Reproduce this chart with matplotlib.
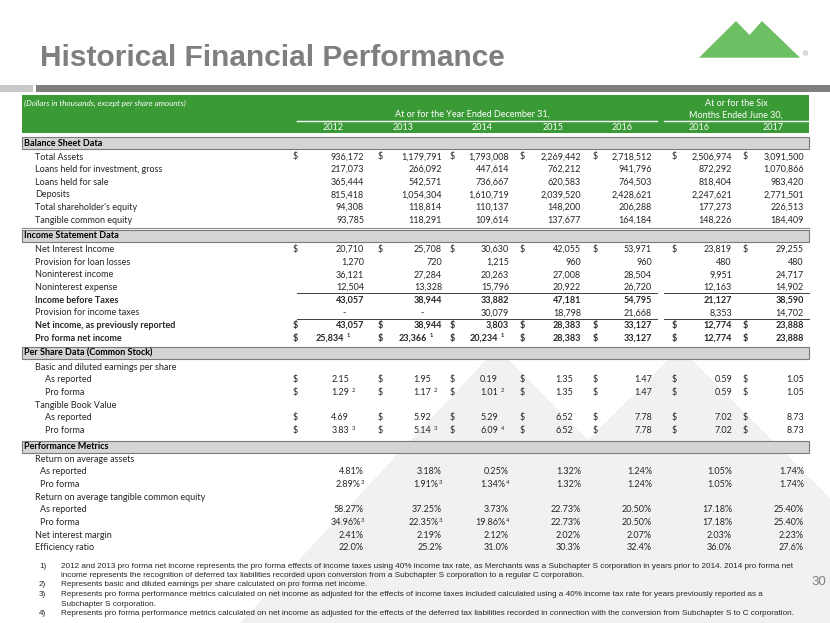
import matplotlib.pyplot as plt
from matplotlib.patches import Polygon, Rectangle

# ---- data ----
annual_years = ['2012', '2013', '2014', '2015', '2016']
half_years = ['2016', '2017']

bs_labels = ['Total Assets', 'Loans held for investment, gross', 'Loans held for sale',
             'Deposits', "Total shareholder's equity", 'Tangible common equity']
total_assets = [936172, 1179791, 1793008, 2269442, 2718512, 2506974, 3091500]
loans_investment = [217073, 266092, 447614, 762212, 941796, 872292, 1070866]
loans_sale = [365444, 542571, 736667, 620583, 764503, 818404, 983420]
deposits = [815418, 1054304, 1610719, 2039520, 2428621, 2247621, 2771501]
shareholder_equity = [94308, 118814, 110137, 148200, 206288, 177273, 226513]
tangible_equity = [93785, 118291, 109614, 137677, 164184, 148226, 184409]

net_interest_income = [20710, 25708, 30630, 42055, 53971, 23819, 29255]
loan_loss_provision = [1270, 720, 1215, 960, 960, 480, 480]
noninterest_income = [36121, 27284, 20263, 27008, 28504, 9951, 24717]
noninterest_expense = [12504, 13328, 15796, 20922, 26720, 12163, 14902]
income_before_taxes = [43057, 38944, 33882, 47181, 54795, 21127, 38590]
income_tax_provision = [None, None, 30079, 18798, 21668, 8353, 14702]
net_income_reported = [43057, 38944, 3803, 28383, 33127, 12774, 23888]
net_income_pro_forma = [25834, 23366, 20234, 28383, 33127, 12774, 23888]
net_income_pro_forma_notes = ['1', '1', '1', None, None, None, None]

eps_reported = [2.15, 1.95, 0.19, 1.35, 1.47, 0.59, 1.05]
eps_pro_forma = [1.29, 1.17, 1.01, 1.35, 1.47, 0.59, 1.05]
eps_pro_forma_notes = ['2', '2', '2', None, None, None, None]
tbv_reported = [4.69, 5.92, 5.29, 6.52, 7.78, 7.02, 8.73]
tbv_pro_forma = [3.83, 5.14, 6.09, 6.52, 7.78, 7.02, 8.73]
tbv_pro_forma_notes = ['3', '3', '4', None, None, None, None]

roaa_reported = [4.81, 3.18, 0.25, 1.32, 1.24, 1.05, 1.74]
roaa_pro_forma = [2.89, 1.91, 1.34, 1.32, 1.24, 1.05, 1.74]
roaa_pro_forma_notes = ['3', '3', '4', None, None, None, None]
roatce_reported = [58.27, 37.25, 3.73, 22.73, 20.50, 17.18, 25.40]
roatce_pro_forma = [34.96, 22.35, 19.86, 22.73, 20.50, 17.18, 25.40]
roatce_pro_forma_notes = ['3', '3', '4', None, None, None, None]
net_interest_margin = [2.41, 2.19, 2.12, 2.02, 2.07, 2.03, 2.23]
efficiency_ratio = [22.0, 25.2, 31.0, 30.3, 32.4, 36.0, 27.6]

footnotes = [
    ('1)', ['2012 and 2013 pro forma net income represents the pro forma effects of income taxes using 40% income tax rate, as Merchants was a Subchapter S corporation in years prior to 2014. 2014 pro forma net',
            'income represents the recognition of deferred tax liabilities recorded upon conversion from a Subchapter S corporation to a regular C corporation.']),
    ('2)', ['Represents basic and diluted earnings per share calculated on pro forma net income.']),
    ('3)', ['Represents pro forma performance metrics calculated on net income as adjusted for the effects of income taxes included calculated using a 40% income tax rate for years previously reported as a',
            'Subchapter S corporation.']),
    ('4)', ['Represents pro forma performance metrics calculated on net income as adjusted for the effects of the deferred tax liabilities recorded in connection with the conversion from Subchapter S to C corporation.']),
]

# ---- layout (pixel coords, y down) ----
W, H = 830, 623
GREEN = '#3a9a36'
LOGO_GREEN = '#6cbf62'
GRAY = '#7f7f7f'
INK = '#262626'
FONT = ['Lato', 'DejaVu Sans']
FS = 6.5
FN_FS = 5.85

col_right = [364, 442, 509, 581, 652, 732, 804]
col_dollar = [293, 378, 450, 520, 593, 672, 743]
ps_pad = [15, 11, 11, 8, 0, 0, 0]
ni_pad = [20, 15, 11, 0, 0, 0, 0]
year_x = [333, 403, 482, 553, 622, 699, 773]
step = 12.65

fig = plt.figure(figsize=(8.3, 6.23), dpi=100)
ax = fig.add_axes([0, 0, 1, 1])
ax.set_xlim(0, W)
ax.set_ylim(H, 0)
ax.axis('off')

# faint logo watermark
ax.add_patch(Polygon([(224, 640), (497, 348), (588, 440), (680, 348), (972, 640)],
                     closed=True, fc='#f1f1f1', ec='none', zorder=0))

# title + logo
ax.text(40, 66, 'Historical Financial Performance', fontsize=21.5, weight='bold',
        color=GRAY, family='Liberation Sans', va='baseline')
ax.add_patch(Polygon([(699, 57.7), (736, 21), (749.5, 35), (762, 21), (800, 57.7)],
                     closed=True, fc=LOGO_GREEN, ec='none'))
ax.text(806, 54, '®', fontsize=5, color='#999999', ha='center', va='center')
ax.add_patch(Rectangle((0, 85), 33, 7, fc='#c8c8c8', ec='none'))
ax.add_patch(Rectangle((36, 85), W - 36, 7, fc=GRAY, ec='none'))

# green header
ax.add_patch(Rectangle((22, 95), 787, 38, fc=GREEN, ec='none'))
ax.plot([297, 657], [121, 121], color='white', lw=1)
ax.plot([664, 809], [121, 121], color='white', lw=1)
ax.text(24, 103, '(Dollars in thousands, except per share amounts)', fontsize=5.8,
        style='italic', color='white', family=FONT, va='center')
ax.text(472, 114.5, 'At or for the Year Ended December 31,', fontsize=FS, color='white',
        family=FONT, ha='center', va='center')
ax.text(736, 103.5, 'At or for the Six', fontsize=FS, color='white', family=FONT,
        ha='center', va='center')
ax.text(736, 115, 'Months Ended June 30,', fontsize=FS, color='white', family=FONT,
        ha='center', va='center')
for x, yr in zip(year_x, annual_years + half_years):
    ax.text(x, 128, yr, fontsize=FS, color='white', family=FONT, ha='center', va='center')


def section(y, title):
    ax.add_patch(Rectangle((22, y - 6), 787, 12, fc='#d4d4d4', ec='#7a7a7a', lw=0.8, zorder=2))
    ax.text(24, y, title, fontsize=FS, weight='bold', color='black', family=FONT,
            va='center', zorder=3)


def row(y, label, x0, values=None, kind='int', dollar=False, notes=None, bold=False):
    wt = 'bold' if bold else 'normal'
    ax.text(x0, y, label, fontsize=FS, weight=wt, color=INK, family=FONT, va='center')
    if values is None:
        return
    for j, v in enumerate(values):
        note = notes[j] if notes else None
        right = col_right[j]
        if v is None:
            s, end = '-', right - 18
        elif kind == 'int':
            s = f'{v:,}'
            end = right - ni_pad[j] if note else right
        elif kind == 'ps':
            s, end = f'{v:.2f}', right - ps_pad[j]
        elif kind == 'pct1':
            s, end = f'{v:.1f}%', right
        else:
            s, end = f'{v:.2f}%', right - (3.5 if note else 0)
        ax.text(end, y, s, fontsize=FS, weight=wt, color=INK, family=FONT,
                ha='right', va='center')
        if note:
            gap = 0.3 if kind.startswith('pct') else 2.5
            ax.text(end + gap, y - 2.3, note, fontsize=4.2, weight=wt, color=INK,
                    family=FONT, ha='left', va='center')
        if dollar:
            ax.text(col_dollar[j], y, '$', fontsize=FS, weight=wt, color=INK,
                    family=FONT, ha='left', va='center')


# Balance sheet
section(143, 'Balance Sheet Data')
bs_rows = [total_assets, loans_investment, loans_sale, deposits, shareholder_equity, tangible_equity]
for i, (lab, vals) in enumerate(zip(bs_labels, bs_rows)):
    row(157 + i * step, lab, 35, vals, dollar=(i == 0))
ax.plot([22, 809], [228, 228], color='#8c8c8c', lw=0.8)

# Income statement
section(236, 'Income Statement Data')
y0 = 249.5
row(y0, 'Net Interest Income', 35, net_interest_income, dollar=True)
row(y0 + step, 'Provision for loan losses', 35, loan_loss_provision)
row(y0 + 2 * step, 'Noninterest income', 35, noninterest_income)
row(y0 + 3 * step, 'Noninterest expense', 35, noninterest_expense)
row(y0 + 4 * step, 'Income before Taxes', 35, income_before_taxes, bold=True)
row(y0 + 5 * step, 'Provision for income taxes', 35, income_tax_provision)
row(y0 + 6 * step, 'Net income, as previously reported', 35, net_income_reported,
    dollar=True, bold=True)
row(y0 + 7 * step, 'Pro forma net income', 35, net_income_pro_forma, dollar=True,
    notes=net_income_pro_forma_notes, bold=True)
for yl in (293.3, 319.3):
    ax.plot([297, 657], [yl, yl], color='#404040', lw=0.7)
    ax.plot([664, 809], [yl, yl], color='#404040', lw=0.7)

# Per share
section(353, 'Per Share Data (Common Stock)')
y0 = 367.3
row(y0, 'Basic and diluted earnings per share', 35)
row(y0 + step, 'As reported', 45, eps_reported, kind='ps', dollar=True)
row(y0 + 2 * step, 'Pro forma', 45, eps_pro_forma, kind='ps', dollar=True,
    notes=eps_pro_forma_notes)
row(y0 + 3 * step, 'Tangible Book Value', 35)
row(y0 + 4 * step, 'As reported', 45, tbv_reported, kind='ps', dollar=True)
row(y0 + 5 * step, 'Pro forma', 45, tbv_pro_forma, kind='ps', dollar=True,
    notes=tbv_pro_forma_notes)

# Performance metrics
section(446.5, 'Performance Metrics')
y0 = 459.2
row(y0, 'Return on average assets', 35)
row(y0 + step, 'As reported', 40, roaa_reported, kind='pct')
row(y0 + 2 * step, 'Pro forma', 40, roaa_pro_forma, kind='pct', notes=roaa_pro_forma_notes)
row(y0 + 3 * step, 'Return on average tangible common equity', 35)
row(y0 + 4 * step, 'As reported', 40, roatce_reported, kind='pct')
row(y0 + 5 * step, 'Pro forma', 40, roatce_pro_forma, kind='pct', notes=roatce_pro_forma_notes)
row(y0 + 6 * step, 'Net interest margin', 35, net_interest_margin, kind='pct')
row(y0 + 7 * step, 'Efficiency ratio', 35, efficiency_ratio, kind='pct1')

# footnotes
y = 566
for num, lines in footnotes:
    ax.text(39, y, num, fontsize=FN_FS, color=INK, family='Liberation Sans', va='center')
    for ln in lines:
        ax.text(61, y, ln, fontsize=FN_FS, color=INK, family='Liberation Sans', va='center')
        y += 9.5

ax.text(826, 582, '30', fontsize=9.5, color=GRAY, family='Liberation Sans',
        ha='right', va='center')

fig.savefig('out.png', dpi=100)
